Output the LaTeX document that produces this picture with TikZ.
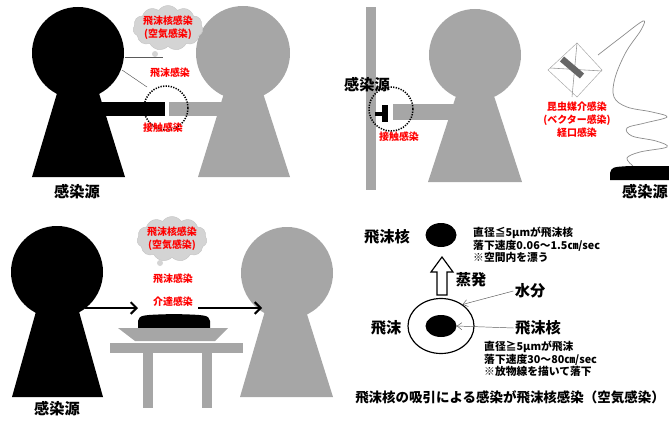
\documentclass[tikz,border=0pt]{standalone}
\usepackage{fontspec}
\setmainfont{Noto Sans CJK JP}
\usetikzlibrary{shapes.symbols,shapes.geometric,arrows.meta}

\definecolor{figgray}{HTML}{A6A6A6}
\definecolor{cloudgray}{HTML}{D4D4D4}
\definecolor{linegray}{HTML}{5A5A5A}

\begin{document}
\begin{tikzpicture}[x=0.03cm,y=-0.03cm,
		lbl/.style={font=\bfseries\fontsize{8.5}{11}\selectfont, text=red, inner sep=1pt, align=center},
		big/.style={font=\bfseries\fontsize{13}{15}\selectfont, inner sep=1pt},
		note/.style={font=\bfseries\fontsize{9.2}{10.6}\selectfont, align=left, anchor=north west, inner sep=0pt},
		puff/.style={cloud, cloud puffs=11, cloud puff arc=110, aspect=1.5, fill=cloudgray, draw=black!22, minimum width=2.1cm, minimum height=1.35cm},
		dotcirc/.style={line width=1.3pt, dash pattern=on 1.1pt off 1.1pt},
		>={Straight Barb[length=5pt,width=10pt]}]
	\useasboundingbox (0,0) rectangle (669,423);

	\fill (78,53) circle (46);
	\fill (58,90) -- (98,90) -- (125,177) -- (32,177) -- cycle;
	\fill (95,102) rectangle (165,116);
	\fill[figgray] (243,53) circle (47);
	\fill[figgray] (225,90) -- (262,90) -- (290,177) -- (198,177) -- cycle;
	\fill[figgray] (169,102) rectangle (230,116);
	\draw[dotcirc] (166,108) circle (22);
	\node[puff] (cloud1) at (168,28) {};
	\fill[cloudgray] (155,54) circle (3);
	\node[lbl] (airborne1) at (cloud1) {飛沫核感染\\(空気感染)};
	\node[lbl] (droplet1) at (170,73) {飛沫感染};
	\node[lbl] (contact1) at (163,128) {接触感染};
	\node[big] (source1) at (77,192) {感染源};
	\coordinate (mouth1) at (125,57);
	\coordinate (breath1) at (163,57);
	\coordinate (chin1) at (122,70);
	\coordinate (spray1) at (147,87);
	\draw[linegray] (mouth1) -- (breath1);
	\draw[linegray] (chin1) -- (spray1);

	\fill[figgray] (366,7) rectangle (376,190);
	\fill[figgray] (475,55) circle (46);
	\fill[figgray] (457,93) -- (493,93) -- (522,182) -- (428,182) -- cycle;
	\fill[figgray] (393,104) rectangle (460,120);
	\fill (382,105) rectangle (388,122);
	\fill (375,112) rectangle (382,116);
	\draw[dotcirc] (391,109) circle (22);
	\node[big] (source2) at (367,85) {感染源};
	\node[lbl] (contact2) at (399,137) {接触感染};
	\draw[black!35, line width=0.4pt] (548,70) -- (577,43) -- (602,70) -- (577,97) -- cycle;
	\draw[black!40, line width=0.5pt] (577,43) -- (572,97);
	\draw[black!40, line width=0.5pt] (550,68) -- (602,71);
	\draw[black!60, line width=5.5pt] (562,59) -- (582,76);
	\draw[black!45, line width=0.6pt] plot[smooth, tension=0.6] coordinates {(598,55) (620,38) (643,21) (641,30) (626,52) (615,78) (614,97) (627,107) (652,112) (667,117) (645,123) (627,128) (632,136) (656,141) (667,147) (640,152) (627,158) (633,166)};
	\fill (610,180) -- (610,173) .. controls (612,167) .. (630,166) -- (669,166) -- (669,180) -- cycle;
	\node[lbl] (vector2) at (577,120) {昆虫媒介感染\\(ベクター感染)\\経口感染};
	\node[big] (source3) at (645,192) {感染源};

	\fill (57,272) circle (46);
	\fill (37,308) -- (78,308) -- (103,397) -- (12,397) -- cycle;
	\fill[figgray] (287,273) circle (46);
	\fill[figgray] (265,311) -- (306,311) -- (333,397) -- (240,397) -- cycle;
	\node[puff] (cloud3) at (172,239) {};
	\fill[cloudgray] (160,263) circle (3);
	\node[lbl] (airborne3) at (cloud3) {飛沫核感染\\(空気感染)};
	\node[lbl] (droplet3) at (173,279) {飛沫感染};
	\node[lbl] (indirect3) at (173,302) {介達感染};
	\fill (138,328) -- (138,321) .. controls (140,315) .. (174,314) .. controls (208,315) .. (210,321) -- (210,328) -- cycle;
	\fill[figgray] (118,328) -- (228,328) -- (215,341) -- (135,341) -- cycle;
	\fill[figgray] (110,343) rectangle (243,353);
	\fill[figgray] (143,353) rectangle (153,408);
	\fill[figgray] (202,353) rectangle (212,408);
	\coordinate (hand3) at (85,308);
	\coordinate (dish3) at (138,308);
	\coordinate (dish3b) at (198,308);
	\coordinate (mouth3) at (262,308);
	\draw[line width=1.8pt,->] (hand3) -- (dish3);
	\draw[line width=1.8pt,->] (dish3b) -- (mouth3);
	\node[big] (source4) at (57,409) {感染源};

	\node[big] (nucleus) at (387,237) {飛沫核};
	\node[ellipse, fill=black, inner sep=0pt, minimum width=0.93cm, minimum height=0.72cm] (core1) at (441,235) {};
	\node[note] (info1) at (473,227) {直径≦5μmが飛沫核\\落下速度0.06～1.5㎝/sec\\※空間内を漂う};
	\draw[line width=1pt, fill=white] (437,295) -- (437,272) -- (431,272) -- (442,257) -- (453,272) -- (447,272) -- (447,295) -- cycle;
	\node[big] (evap) at (471,280) {蒸発};
	\node[ellipse, draw, line width=1pt, inner sep=0pt, minimum width=1.98cm, minimum height=1.65cm] (drop) at (441,326) {};
	\node[ellipse, fill=black, inner sep=0pt, minimum width=0.93cm, minimum height=0.66cm] (core2) at (441,326) {};
	\node[big] (water) at (530,291) {水分};
	\node[big] (droplet) at (386,328) {飛沫};
	\node[big] (nucleus2) at (538,328) {飛沫核};
	\draw[linegray, -{Straight Barb[length=4pt,width=6pt]}] (water.west) -- (drop.45);
	\draw[linegray, -{Straight Barb[length=4pt,width=6pt]}] (nucleus2.west) -- (core2.east);
	\node[note] (info2) at (484,341) {直径≧5μmが飛沫\\落下速度30～80㎝/sec\\※放物線を描いて落下};
	\node[font=\bfseries\fontsize{11.5}{13}\selectfont, inner sep=0pt] (caption) at (510,397) {飛沫核の吸引による感染が飛沫核感染（空気感染）};
\end{tikzpicture}
\end{document}
